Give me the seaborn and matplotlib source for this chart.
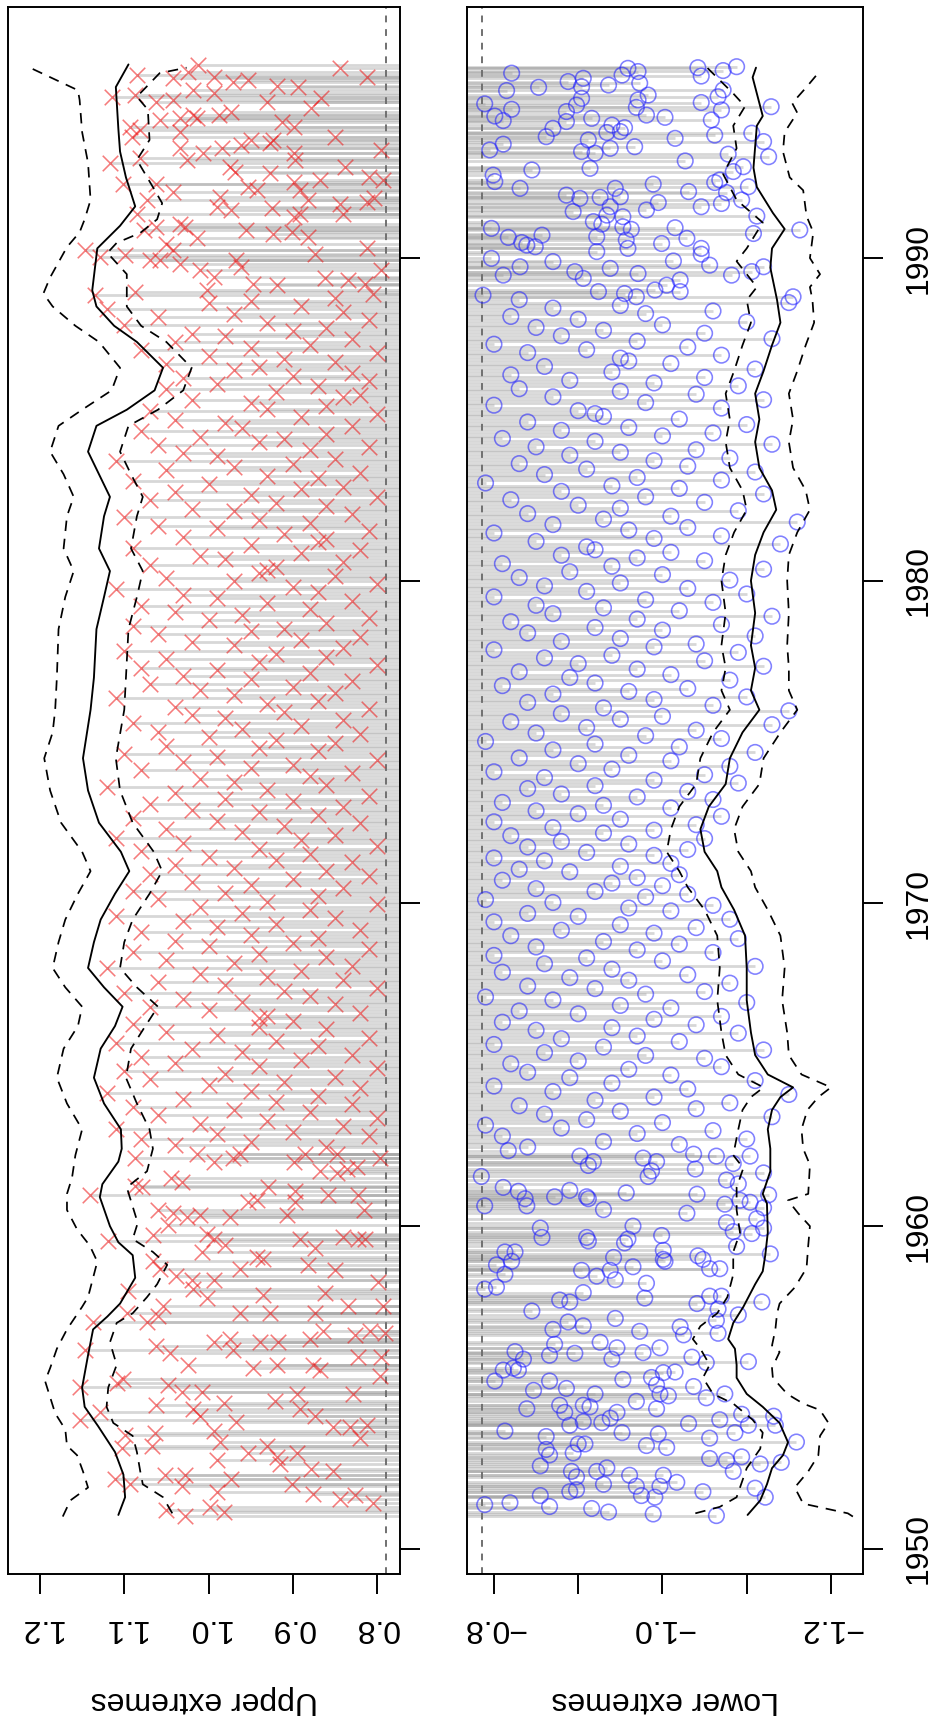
import numpy as np
import pandas as pd
import matplotlib
matplotlib.use("Agg")
import matplotlib.pyplot as plt
from matplotlib.markers import MarkerStyle
import seaborn as sns

# ---------------- data: (year, value) ----------------
upper_early = [(1962.11,1.087),(1962.23,1.014),(1962.00,0.994),(1962.11,0.971),(1962.23,0.963),(1962.00,0.899),(1962.23,0.886),(1962.23,0.848),(1962.11,0.797),(1961.71,0.868),(1961.65,0.848),(1961.77,0.836),(1961.83,0.824),(1961.48,1.044),(1961.37,1.032),(1961.25,1.087),(1961.20,1.079),(1960.97,1.141),(1961.20,0.929),(1961.08,0.897),(1960.97,0.858),(1960.97,0.822),(1960.51,0.816),(1960.51,1.060),(1960.40,1.042),(1960.28,1.026),(1960.34,1.010),(1960.28,0.975),(1960.74,0.953),(1960.80,0.943),(1960.34,0.907),(1960.74,0.897),(1959.71,1.066),(1960.05,1.048),(1959.77,1.002),(1959.60,0.994),(1959.43,0.980),(1959.54,1.119),(1959.60,0.891),(1959.31,0.874),(1959.65,0.840),(1959.60,0.822),(1959.60,0.814),(1959.03,0.943),(1958.97,0.935),(1959.20,1.008),(1958.91,1.066),(1958.68,1.058),(1958.45,1.038),(1958.34,1.020),(1958.05,1.018),(1958.34,0.994),(1958.68,0.963),(1958.80,0.882),(1958.63,0.850),(1957.77,1.002),(1957.88,0.935),(1957.94,0.862),(1957.54,0.834),(1958.28,0.799),(1957.54,0.793),(1958.00,1.095),(1957.31,1.097),(1957.54,1.054),(1957.31,0.963),(1957.31,0.927),(1957.31,0.874),(1957.03,1.137),(1957.03,1.073),(1957.20,1.060),(1956.40,0.994),(1956.51,0.975),(1956.17,0.971),(1956.40,0.939),(1956.40,0.917),(1956.51,0.880),(1956.74,0.864),(1956.63,0.826),(1956.74,0.808),(1956.68,0.791),(1956.17,1.147),(1956.28,1.062),(1956.06,1.046),(1955.71,1.024),(1955.60,0.947),(1955.71,0.919),(1955.71,0.876),(1955.54,0.868),(1955.94,0.822),(1955.94,0.795),(1955.37,0.797),(1955.03,1.153),(1955.25,1.101),(1955.14,1.109),(1955.08,1.048),(1954.85,1.032),(1954.85,1.008),(1954.51,0.982),(1954.45,1.062),(1954.57,0.921),(1954.80,0.895),(1954.34,0.891),(1954.11,0.874),(1954.80,0.828),(1953.77,0.852),(1953.77,0.832),(1953.83,0.812),(1953.43,0.820),(1954.00,1.153),(1954.23,1.129),(1954.34,1.018),(1954.11,1.010),(1953.94,0.967),(1953.60,1.064),(1953.54,1.099),(1953.65,0.994),(1953.31,0.986),(1952.97,0.953),(1953.20,0.931),(1952.85,0.919),(1952.97,0.895),(1953.14,1.103),(1953.20,1.067),(1952.74,0.990),(1952.63,0.915),(1952.46,0.878),(1952.40,0.852),(1952.28,1.052),(1952.28,1.028),(1952.17,0.973),(1952.17,1.111),(1952.00,1.093),(1952.00,0.901),(1951.71,0.876),(1951.54,0.844),(1951.66,0.826),(1951.43,0.805),(1951.94,1.032),(1951.77,0.990),(1951.03,1.028),(1951.14,0.982),(1951.31,0.998),(1951.20,1.050)]

upper_mid = [(1962.45,0.86),(1962.52,1.04),(1962.61,0.95),(1962.70,1.08),(1962.78,0.81),(1962.86,0.99),(1962.93,0.90),(1963.02,1.11),(1963.10,0.84),(1963.18,1.01),(1963.27,0.93),(1963.35,0.80),(1963.44,1.06),(1963.53,0.88),(1963.60,0.97),(1963.69,1.09),(1963.77,0.83),(1963.86,0.92),(1963.94,1.03),(1964.03,0.87),(1964.12,1.12),(1964.20,0.95),(1964.29,0.82),(1964.37,1.00),(1964.46,0.91),(1964.55,1.07),(1964.63,0.85),(1964.71,0.98),(1964.80,1.10),(1964.89,0.80),(1964.97,0.94),(1965.06,1.04),(1965.15,0.89),(1965.23,1.08),(1965.31,0.83),(1965.40,0.96),(1965.49,1.02),(1965.58,0.87),(1965.66,1.11),(1965.75,0.92),(1965.84,0.81),(1965.92,0.99),(1966.01,1.05),(1966.10,0.86),(1966.18,0.94),(1966.27,1.09),(1966.35,0.90),(1966.44,0.94),(1966.52,0.93),(1966.61,0.82),(1966.70,1.00),(1966.78,1.07),(1966.87,0.85),(1966.95,0.96),(1967.04,1.03),(1967.13,0.88),(1967.21,1.10),(1967.30,0.91),(1967.39,0.80),(1967.47,0.98),(1967.56,1.06),(1967.64,0.84),(1967.73,0.93),(1967.82,1.01),(1967.90,0.89),(1967.99,1.12),(1968.07,0.83),(1968.16,0.97),(1968.25,1.05),(1968.33,0.86),(1968.42,0.94),(1968.50,1.09),(1968.59,0.81),(1968.68,1.00),(1968.76,0.90),(1968.85,1.04),(1968.93,0.87),(1969.02,0.95),(1969.11,1.08),(1969.19,0.82),(1969.28,0.99),(1969.37,0.92),(1969.45,1.03),(1969.54,0.85),(1969.62,1.11),(1969.71,0.96),(1969.80,0.88),(1969.88,1.01),(1969.97,0.80),(1970.06,0.93),(1970.14,1.06),(1970.23,0.87),(1970.32,0.98),(1970.40,1.09),(1970.49,0.84),(1970.58,0.95),(1970.66,1.02),(1970.75,0.90),(1970.84,0.81),(1970.92,1.07),(1971.01,0.86),(1971.09,0.97),(1971.18,1.04),(1971.27,0.83),(1971.35,0.92),(1971.44,1.00),(1971.53,0.88),(1971.61,1.08),(1971.70,0.94),(1971.78,0.80),(1971.87,1.03),(1971.96,0.89),(1972.04,1.11),(1972.13,0.85),(1972.22,0.96),(1972.30,1.05),(1972.39,0.91),(1972.48,0.82),(1972.56,0.99),(1972.65,1.09),(1972.73,0.87),(1972.82,0.94),(1972.91,1.02),(1972.99,0.84),(1973.08,1.07),(1973.17,0.90),(1973.25,0.98),(1973.34,0.81),(1973.42,1.04),(1973.51,0.93),(1973.60,1.12),(1973.68,0.86),(1973.77,0.97),(1973.86,1.01),(1973.94,0.88),(1974.03,0.83),(1974.12,1.08),(1974.20,0.95),(1974.29,0.90),(1974.37,1.03),(1974.46,0.80),(1974.55,0.99),(1974.63,1.10),(1974.72,0.87),(1974.81,0.94),(1974.89,1.05),(1974.98,0.85),(1975.07,0.92),(1975.15,1.00),(1975.24,0.82),(1975.32,1.06),(1975.41,0.96),(1975.50,0.89),(1975.58,1.09),(1975.67,0.84),(1975.76,0.98),(1975.84,1.02),(1975.93,0.91),(1976.02,0.81),(1976.10,1.04),(1976.19,0.93),(1976.27,0.87),(1976.36,1.11),(1976.45,0.97),(1976.53,0.85),(1976.62,1.01),(1976.71,0.90),(1976.79,1.07),(1976.88,0.83),(1976.96,0.95),(1977.05,1.03),(1977.14,0.88),(1977.22,0.99),(1977.31,1.08),(1977.40,0.80),(1977.48,0.94),(1977.57,1.05),(1977.65,0.86),(1977.74,0.92),(1977.83,1.10),(1977.91,0.84),(1978.00,0.97),(1978.09,1.02),(1978.17,0.89),(1978.26,0.82),(1978.35,1.06),(1978.43,0.95),(1978.52,0.91),(1978.60,1.09),(1978.69,0.86),(1978.78,1.00),(1978.86,0.81),(1978.95,0.96),(1979.04,1.04),(1979.12,0.88),(1979.21,1.08),(1979.30,0.93),(1979.38,0.83),(1979.47,0.99),(1979.55,1.03),(1979.64,0.87),(1979.73,1.11),(1979.81,0.90),(1979.90,0.80),(1979.99,0.97),(1980.07,1.05),(1980.16,0.85),(1980.25,0.94),(1980.33,0.93),(1980.42,0.92),(1980.50,1.07),(1980.59,0.84),(1980.68,0.98),(1980.76,1.01),(1980.85,0.89),(1980.94,0.82),(1981.02,1.09),(1981.11,0.95),(1981.20,0.87),(1981.28,0.86),(1981.37,1.03),(1981.45,0.91),(1981.54,0.81),(1981.63,0.99),(1981.71,1.06),(1981.80,0.88),(1981.89,0.94),(1981.97,1.10),(1982.06,0.83),(1982.15,0.97),(1982.23,1.02),(1982.32,0.86),(1982.40,0.92),(1982.49,1.07),(1982.58,0.80),(1982.66,0.95),(1982.75,1.04),(1982.83,0.89),(1982.92,0.84),(1983.01,1.00),(1983.09,1.09),(1983.18,0.87),(1983.26,0.93),(1983.35,0.82),(1983.44,1.05),(1983.52,0.97),(1983.61,0.90),(1983.70,1.11),(1983.78,0.85),(1983.87,0.99),(1983.95,1.03),(1984.04,0.88),(1984.13,0.81),(1984.21,1.06),(1984.30,0.94),(1984.38,0.91),(1984.47,1.01),(1984.56,0.86),(1984.64,1.08),(1984.73,0.96),(1984.81,0.83),(1984.90,0.98),(1984.99,1.04),(1985.07,0.89),(1985.16,0.80),(1985.25,1.07),(1985.33,0.93),(1985.42,0.86),(1985.50,0.95),(1985.59,1.02),(1985.68,0.84),(1985.76,0.82),(1985.85,0.92),(1985.93,1.05),(1986.02,0.87),(1986.11,0.99),(1986.19,0.81),(1986.28,1.03),(1986.36,0.90),(1986.45,0.83),(1986.54,0.97),(1986.62,0.94),(1986.71,1.05),(1986.79,0.85),(1986.88,0.91),(1986.97,1.00),(1987.05,0.80),(1987.14,1.08),(1987.22,0.95),(1987.31,0.88),(1987.40,1.04),(1987.48,0.83),(1987.57,0.98),(1987.65,1.02),(1987.74,0.90),(1987.83,0.86),(1987.91,1.10),(1988.00,0.93),(1988.08,0.81),(1988.17,1.06),(1988.26,0.97),(1988.34,0.84),(1988.43,1.12),(1988.51,0.89),(1988.60,1.00),(1988.68,0.95)]

upper_late = [(1995.98,1.012),(1995.88,0.844),(1995.62,0.812),(1995.67,1.085),(1995.57,1.042),(1995.78,1.024),(1995.60,0.994),(1995.47,0.971),(1995.52,0.953),(1995.33,0.919),(1995.29,0.894),(1995.00,1.115),(1995.05,1.087),(1995.21,1.018),(1995.11,0.994),(1994.85,1.062),(1994.90,1.042),(1994.85,0.931),(1994.95,0.866),(1994.64,0.878),(1994.43,1.018),(1994.43,0.988),(1994.54,0.973),(1994.28,1.058),(1994.33,1.034),(1994.33,1.014),(1994.07,1.093),(1993.97,1.081),(1994.23,0.913),(1994.07,0.899),(1993.76,0.850),(1993.92,1.034),(1993.76,1.091),(1993.66,0.949),(1993.66,0.923),(1993.56,0.927),(1993.35,0.795),(1993.40,1.034),(1993.04,1.026),(1993.25,1.006),(1993.40,0.984),(1993.50,0.961),(1993.25,0.899),(1993.04,0.897),(1992.94,1.117),(1993.09,1.081),(1992.83,0.975),(1992.68,0.969),(1992.63,0.927),(1992.42,0.868),(1992.83,0.838),(1992.52,0.810),(1992.42,0.793),(1992.31,1.101),(1992.31,1.062),(1992.06,1.042),(1991.90,0.986),(1992.21,0.953),(1992.11,0.943),(1992.37,0.899),(1992.11,0.891),(1991.80,0.882),(1991.69,0.844),(1991.38,0.840),(1991.75,0.812),(1991.85,0.803),(1991.59,0.990),(1991.49,0.973),(1991.54,0.925),(1991.28,0.899),(1991.38,0.891),(1991.80,1.073),(1991.38,1.085),(1990.87,1.077),(1990.97,1.062),(1991.07,1.034),(1990.97,1.028),(1990.87,0.955),(1990.76,0.923),(1990.82,0.901),(1990.66,0.882),(1990.45,1.050),(1990.25,1.042),(1990.61,1.014),(1989.83,1.034),(1989.94,1.058),(1989.94,1.069),(1990.09,1.099),(1990.25,1.147),(1990.04,1.129),(1990.14,0.874),(1990.30,0.812),(1989.63,0.795),(1989.63,1.010),(1989.42,0.994),(1989.94,0.967),(1989.73,0.961),(1989.21,0.947),(1989.16,0.919),(1989.37,0.862),(1989.32,0.834),(1989.21,0.814),(1988.90,0.805),(1988.75,0.850),(1988.85,1.135),(1988.96,1.087),(1989.01,1.002)]

lower_early = [(1962.34,-0.817),(1962.17,-0.902),(1962.00,-0.918),(1961.88,-0.912),(1962.11,-0.977),(1962.00,-0.993),(1961.71,-0.987),(1962.23,-1.037),(1962.17,-1.064),(1962.17,-1.104),(1961.65,-1.120),(1961.94,-1.084),(1961.77,-1.039),(1961.54,-0.983),(1961.54,-0.785),(1960.63,-0.789),(1961.20,-0.811),(1961.08,-0.829),(1960.85,-0.837),(1960.63,-0.839),(1960.91,-0.872),(1961.11,-0.890),(1960.91,-0.910),(1960.85,-0.912),(1960.51,-0.930),(1961.03,-0.957),(1960.40,-1.029),(1960.99,-1.041),(1961.43,-1.076),(1961.31,-1.090),(1960.80,-1.092),(1960.68,-1.074),(1960.74,-1.104),(1960.97,-1.126),(1960.57,-1.120),(1960.23,-1.112),(1959.77,-1.106),(1960.11,-1.076),(1959.83,-1.084),(1959.94,-1.120),(1959.37,-1.088),(1959.14,-1.128),(1959.71,-0.999),(1959.25,-1.001),(1958.97,-1.001),(1958.91,-1.003),(1959.08,-1.042),(1958.97,-1.048),(1958.68,-1.056),(1958.68,-1.068),(1960.00,-0.965),(1959.60,-0.959),(1959.48,-0.955),(1959.03,-0.942),(1958.74,-0.965),(1958.63,-0.938),(1958.34,-0.944),(1958.45,-0.922),(1958.63,-0.904),(1959.94,-0.855),(1959.65,-0.857),(1959.20,-0.825),(1959.20,-0.813),(1958.80,-0.803),(1958.51,-0.813),(1958.91,-0.821),(1958.05,-0.789),(1958.11,-0.803),(1959.65,-0.910),(1959.54,-0.912),(1957.71,-0.878),(1957.65,-0.890),(1957.94,-0.906),(1957.37,-0.845),(1958.23,-0.981),(1957.77,-0.979),(1957.60,-1.041),(1957.83,-1.056),(1957.83,-1.070),(1957.43,-1.066),(1957.25,-1.090),(1957.65,-1.118),(1957.08,-1.064),(1956.68,-1.066),(1956.88,-1.021),(1956.63,-1.025),(1956.74,-0.973),(1957.14,-0.944),(1957.03,-0.888),(1956.91,-0.906),(1956.80,-0.870),(1956.00,-0.866),(1956.34,-0.872),(1956.06,-0.896),(1956.40,-0.926),(1956.23,-0.946),(1955.88,-0.940),(1956.08,-0.977),(1956.23,-0.997),(1955.94,-1.035),(1955.77,-1.052),(1955.80,-1.102),(1956.11,-0.825),(1955.88,-0.835),(1955.54,-0.811),(1955.60,-0.823),(1955.54,-0.829),(1955.20,-0.801),(1955.20,-0.866),(1954.91,-0.847),(1954.97,-0.886),(1955.25,-0.953),(1955.31,-0.987),(1955.46,-1.001),(1955.48,-1.015),(1955.08,-0.993),(1954.80,-0.997),(1954.74,-1.007),(1955.03,-1.037),(1954.68,-1.052),(1954.80,-1.074),(1954.34,-0.839),(1954.45,-0.878),(1954.23,-0.884),(1954.45,-0.906),(1954.40,-0.914),(1954.80,-0.920),(1954.57,-0.969),(1954.34,-0.993),(1953.83,-0.890),(1953.94,-0.906),(1953.91,-0.928),(1954.05,-0.938),(1954.23,-0.946),(1953.60,-0.952),(1953.65,-0.813),(1953.48,-0.862),(1953.08,-0.862),(1952.91,-0.866),(1952.97,-0.894),(1953.25,-0.900),(1953.25,-0.908),(1953.20,-0.981),(1953.56,-0.995),(1953.14,-1.005),(1953.88,-1.031),(1953.43,-1.056),(1954.00,-1.068),(1953.60,-1.086),(1953.83,-1.102),(1954.17,-1.094),(1954.11,-1.132),(1953.83,-1.134),(1953.31,-1.159),(1952.63,-1.116),(1952.68,-1.141),(1952.85,-1.094),(1952.74,-1.076),(1952.80,-1.056),(1952.40,-1.084),(1952.57,-0.855),(1952.40,-0.892),(1952.23,-0.898),(1952.40,-0.922),(1952.00,-0.930),(1952.51,-0.934),(1951.77,-0.890),(1951.83,-0.898),(1952.28,-0.961),(1951.94,-0.969),(1951.65,-0.975),(1951.60,-0.991),(1951.94,-0.997),(1952.28,-1.001),(1952.06,-1.017),(1951.77,-1.048),(1951.65,-0.855),(1951.37,-0.789),(1951.43,-0.819),(1951.31,-0.866),(1951.25,-0.916),(1951.14,-0.936),(1951.08,-0.989),(1951.03,-1.064),(1951.88,-1.110),(1951.60,-1.122)]

lower_mid = [(1962.45,-0.84),(1962.53,-1.02),(1962.62,-0.93),(1962.70,-1.10),(1962.79,-0.81),(1962.87,-0.97),(1962.96,-1.06),(1963.04,-0.88),(1963.13,-0.79),(1963.21,-1.00),(1963.30,-0.91),(1963.39,-1.13),(1963.47,-0.86),(1963.56,-0.95),(1963.64,-1.04),(1963.73,-0.83),(1963.82,-1.08),(1963.90,-0.92),(1964.00,-0.99),(1964.08,-1.15),(1964.17,-0.87),(1964.25,-1.03),(1964.34,-0.80),(1964.43,-0.94),(1964.51,-1.11),(1964.60,-0.89),(1964.68,-1.01),(1964.77,-0.84),(1964.86,-0.96),(1964.94,-1.07),(1965.03,-0.82),(1965.12,-0.90),(1965.20,-1.05),(1965.29,-0.98),(1965.38,-0.86),(1965.46,-1.12),(1965.55,-0.93),(1965.63,-0.80),(1965.72,-1.02),(1965.81,-0.88),(1965.89,-0.97),(1965.98,-1.09),(1966.07,-0.85),(1966.15,-0.94),(1966.24,-1.04),(1966.32,-0.81),(1966.41,-0.99),(1966.50,-1.07),(1966.58,-0.90),(1966.67,-0.83),(1966.76,-1.01),(1966.84,-0.95),(1966.93,-1.10),(1967.01,-0.87),(1967.10,-0.79),(1967.19,-0.98),(1967.27,-1.05),(1967.36,-0.92),(1967.44,-0.84),(1967.53,-1.08),(1967.62,-0.96),(1967.70,-0.89),(1967.79,-1.03),(1967.87,-0.81),(1967.96,-0.94),(1968.05,-1.11),(1968.13,-0.86),(1968.22,-1.00),(1968.31,-0.91),(1968.39,-0.80),(1968.48,-1.06),(1968.56,-0.97),(1968.65,-0.85),(1968.74,-1.02),(1968.82,-0.93),(1968.91,-1.09),(1969.00,-0.82),(1969.08,-0.99),(1969.17,-0.88),(1969.25,-1.04),(1969.34,-0.95),(1969.43,-0.80),(1969.51,-1.08),(1969.60,-0.90),(1969.69,-0.84),(1969.77,-1.01),(1969.86,-0.96),(1969.94,-1.06),(1970.03,-0.87),(1970.12,-0.79),(1970.20,-0.98),(1970.29,-1.03),(1970.37,-0.92),(1970.46,-0.85),(1970.55,-1.00),(1970.63,-0.94),(1970.72,-0.81),(1970.80,-0.97),(1970.89,-1.02),(1970.98,-0.89),(1971.06,-0.83),(1971.15,-0.95),(1971.24,-1.01),(1971.32,-0.86),(1971.41,-0.80),(1971.49,-0.99),(1971.58,-0.91),(1971.67,-1.03),(1971.75,-0.84),(1971.84,-0.96),(1971.92,-0.88),(1972.01,-1.05),(1972.10,-0.82),(1972.18,-0.93),(1972.27,-0.99),(1972.35,-0.87),(1972.44,-1.04),(1972.53,-0.80),(1972.61,-0.95),(1972.70,-1.07),(1972.78,-0.90),(1972.87,-0.85),(1972.96,-1.01),(1973.04,-0.93),(1973.13,-0.81),(1973.22,-1.06),(1973.30,-0.97),(1973.39,-0.88),(1973.47,-1.03),(1973.56,-0.84),(1973.65,-0.92),(1973.73,-1.09),(1973.82,-0.99),(1973.90,-0.86),(1973.99,-1.05),(1974.08,-0.80),(1974.16,-0.94),(1974.25,-1.08),(1974.33,-0.90),(1974.42,-1.01),(1974.51,-0.83),(1974.59,-0.96),(1974.68,-1.11),(1974.76,-0.87),(1974.85,-1.02),(1974.94,-0.92),(1975.02,-0.79),(1975.11,-1.07),(1975.20,-0.98),(1975.28,-0.85),(1975.37,-1.04),(1975.45,-0.91),(1975.54,-1.13),(1975.63,-0.82),(1975.71,-0.95),(1975.80,-1.00),(1975.88,-0.88),(1975.97,-1.15),(1976.06,-0.93),(1976.14,-1.06),(1976.23,-0.84),(1976.32,-0.99),(1976.40,-1.10),(1976.49,-0.87),(1976.57,-0.96),(1976.66,-1.03),(1976.75,-0.81),(1976.83,-0.92),(1976.92,-1.08),(1977.00,-0.89),(1977.09,-1.01),(1977.18,-0.83),(1977.26,-0.97),(1977.35,-1.12),(1977.43,-0.90),(1977.52,-1.05),(1977.61,-0.86),(1977.69,-0.94),(1977.78,-1.09),(1977.86,-0.80),(1977.95,-0.99),(1978.04,-1.04),(1978.12,-0.88),(1978.21,-0.95),(1978.29,-1.11),(1978.38,-0.84),(1978.47,-1.00),(1978.55,-0.92),(1978.64,-1.07),(1978.73,-0.82),(1978.81,-0.97),(1978.90,-1.13),(1978.98,-0.87),(1979.07,-1.02),(1979.16,-0.93),(1979.24,-0.85),(1979.33,-1.06),(1979.41,-0.98),(1979.50,-0.80),(1979.59,-1.10),(1979.67,-0.91),(1979.76,-1.03),(1979.84,-0.86),(1979.93,-0.95),(1980.02,-1.08),(1980.10,-0.83),(1980.19,-1.00),(1980.28,-0.89),(1980.36,-1.12),(1980.45,-0.94),(1980.53,-0.81),(1980.62,-1.05),(1980.71,-0.97),(1980.79,-0.88),(1980.88,-1.01),(1980.96,-0.92),(1981.05,-0.91),(1981.14,-1.14),(1981.22,-0.85),(1981.31,-0.99),(1981.39,-1.07),(1981.48,-0.80),(1981.57,-0.96),(1981.65,-1.03),(1981.74,-0.87),(1981.82,-1.16),(1981.91,-0.93),(1982.00,-1.01),(1982.08,-0.84),(1982.17,-1.09),(1982.25,-0.95),(1982.34,-0.90),(1982.43,-1.05),(1982.51,-0.82),(1982.60,-0.98),(1982.69,-1.12),(1982.77,-0.88),(1982.86,-1.02),(1982.94,-0.94),(1983.03,-0.79),(1983.12,-1.07),(1983.20,-0.97),(1983.29,-0.86),(1983.37,-1.11),(1983.46,-0.91),(1983.55,-1.03),(1983.63,-0.83),(1983.72,-0.99),(1983.80,-1.08),(1983.89,-0.89),(1983.98,-0.95),(1984.06,-1.04),(1984.15,-0.85),(1984.23,-1.13),(1984.32,-0.92),(1984.41,-0.81),(1984.49,-1.00),(1984.58,-1.06),(1984.66,-0.88),(1984.75,-0.96),(1984.84,-1.10),(1984.92,-0.84),(1985.01,-1.02),(1985.09,-0.93),(1985.18,-0.92),(1985.27,-0.90),(1985.35,-1.07),(1985.44,-0.80),(1985.52,-0.98),(1985.61,-1.12),(1985.70,-0.87),(1985.78,-1.04),(1985.87,-0.95),(1985.95,-0.83),(1986.04,-1.09),(1986.13,-0.99),(1986.21,-0.89),(1986.30,-1.05),(1986.38,-0.82),(1986.47,-0.94),(1986.56,-1.11),(1986.64,-0.86),(1986.73,-1.01),(1986.81,-0.96),(1986.90,-0.95),(1986.99,-1.07),(1987.07,-0.84),(1987.16,-0.91),(1987.24,-1.03),(1987.33,-0.80),(1987.42,-0.97),(1987.50,-1.13),(1987.59,-0.88),(1987.67,-1.05),(1987.76,-0.93),(1987.85,-0.85),(1987.93,-1.00),(1988.02,-1.10),(1988.10,-0.90),(1988.19,-0.82),(1988.28,-0.98),(1988.36,-1.06),(1988.45,-0.87),(1988.53,-0.95),(1988.62,-1.15),(1988.71,-0.83)]

lower_late = [(1995.73,-0.821),(1995.29,-0.853),(1995.19,-0.815),(1994.78,-0.789),(1994.40,-0.801),(1994.26,-0.811),(1994.61,-0.821),(1995.47,-0.888),(1995.57,-0.906),(1995.31,-0.904),(1994.95,-0.904),(1995.36,-0.936),(1995.67,-0.952),(1995.88,-0.959),(1995.78,-0.971),(1995.42,-0.973),(1995.05,-0.983),(1994.90,-0.971),(1994.67,-0.969),(1994.43,-0.981),(1994.36,-1.003),(1995.90,-1.042),(1995.64,-1.046),(1995.81,-1.072),(1995.93,-1.088),(1994.54,-0.886),(1994.23,-0.886),(1994.74,-0.898),(1994.02,-0.870),(1993.76,-0.862),(1994.33,-0.916),(1994.12,-0.940),(1993.89,-0.934),(1993.92,-0.950),(1994.04,-0.955),(1993.40,-0.938),(1993.66,-0.912),(1993.30,-0.904),(1993.25,-0.920),(1992.78,-0.914),(1993.45,-0.967),(1993.71,-1.015),(1993.01,-1.027),(1994.82,-1.046),(1995.21,-1.072),(1995.00,-1.066),(1994.59,-1.070),(1994.28,-1.058),(1993.81,-1.062),(1994.69,-1.129),(1993.87,-1.106),(1993.61,-1.120),(1993.14,-1.126),(1993.22,-1.078),(1992.83,-1.096),(1992.68,-1.084),(1992.34,-1.062),(1992.42,-1.068),(1992.21,-1.102),(1992.03,-1.076),(1991.80,-1.094),(1991.69,-1.070),(1991.59,-1.046),(1992.06,-1.031),(1992.29,-0.989),(1991.72,-0.995),(1991.49,-0.981),(1993.35,-0.795),(1993.53,-0.811),(1992.57,-0.799),(1992.37,-0.801),(1992.73,-0.845),(1992.16,-0.831),(1991.95,-0.886),(1991.85,-0.902),(1991.44,-0.894),(1991.88,-0.926),(1992.16,-0.944),(1991.90,-0.950),(1991.59,-0.938),(1991.33,-0.934),(1991.13,-0.918),(1991.05,-0.928),(1991.28,-0.953),(1990.97,-0.953),(1990.89,-0.963),(1990.56,-0.957),(1990.30,-0.959),(1990.66,-0.922),(1990.20,-0.922),(1990.92,-0.797),(1990.64,-0.817),(1990.48,-0.833),(1990.40,-0.839),(1990.35,-0.849),(1990.71,-0.857),(1989.89,-0.870),(1989.99,-0.797),(1989.73,-0.831),(1989.47,-0.811),(1989.58,-0.896),(1989.37,-0.906),(1989.68,-0.938),(1989.52,-0.971),(1990.45,-0.999),(1989.91,-1.013),(1990.94,-1.015),(1990.61,-1.029),(1990.30,-1.046),(1990.12,-1.046),(1989.78,-1.056),(1989.47,-1.082),(1989.58,-1.106),(1989.73,-1.120),(1991.30,-1.112),(1990.76,-1.108),(1990.87,-1.163),(1988.96,-0.924),(1988.90,-0.955),(1988.80,-0.969),(1989.01,-0.991),(1989.16,-1.005),(1989.32,-1.021),(1988.96,-1.021),(1988.85,-0.787),(1988.80,-1.155)]

# smoothed curves (year, value)
upper_center = [(1951.05,1.107),(1951.6,1.099),(1952.3,1.101),(1953.0,1.111),(1953.8,1.131),(1954.4,1.147),(1955.0,1.150),(1956.0,1.143),(1956.8,1.137),(1957.2,1.120),(1957.6,1.105),(1958.4,1.087),(1959.1,1.090),(1959.5,1.107),(1960.0,1.117),(1960.9,1.129),(1961.3,1.126),(1962.0,1.107),(1962.4,1.103),(1963.0,1.104),(1963.8,1.124),(1964.6,1.136),(1965.5,1.128),(1966.2,1.111),(1966.8,1.102),(1967.4,1.124),(1968.0,1.143),(1968.8,1.136),(1969.5,1.128),(1970.3,1.111),(1971.0,1.094),(1971.6,1.104),(1972.5,1.130),(1973.5,1.143),(1974.5,1.149),(1976.0,1.140),(1977.0,1.136),(1978.5,1.133),(1979.5,1.124),(1980.3,1.117),(1981.0,1.130),(1982.0,1.124),(1982.6,1.117),(1983.3,1.130),(1984.0,1.143),(1984.8,1.133),(1985.3,1.097),(1985.9,1.064),(1986.6,1.054),(1987.4,1.085),(1987.9,1.112),(1988.5,1.133),(1989.0,1.138),(1990.3,1.132),(1991.0,1.105),(1991.6,1.087),(1992.5,1.098),(1993.3,1.105),(1994.0,1.107),(1995.3,1.110),(1996.0,1.095)]
upper_band_hi = [(1951.0,1.173),(1951.5,1.164),(1951.9,1.143),(1952.4,1.149),(1952.9,1.156),(1953.2,1.168),(1953.7,1.170),(1954.2,1.182),(1954.7,1.188),(1955.2,1.194),(1955.6,1.188),(1956.2,1.180),(1956.8,1.168),(1957.5,1.150),(1957.8,1.143),(1958.9,1.132),(1959.4,1.141),(1959.9,1.156),(1960.5,1.168),(1961.0,1.168),(1961.5,1.162),(1962.2,1.158),(1963.0,1.150),(1963.8,1.168),(1964.6,1.180),(1965.5,1.172),(1966.2,1.155),(1966.8,1.150),(1967.4,1.170),(1968.0,1.185),(1968.8,1.178),(1969.5,1.170),(1970.3,1.155),(1971.0,1.140),(1971.6,1.150),(1972.5,1.175),(1973.5,1.188),(1974.5,1.195),(1975.3,1.185),(1976.0,1.182),(1977.0,1.180),(1978.5,1.178),(1979.5,1.170),(1980.3,1.160),(1981.0,1.172),(1982.0,1.168),(1982.6,1.160),(1983.3,1.172),(1984.0,1.188),(1984.8,1.178),(1985.3,1.150),(1985.9,1.115),(1986.6,1.105),(1987.4,1.130),(1987.9,1.158),(1988.5,1.185),(1988.9,1.196),(1989.4,1.188),(1990.34,1.168),(1990.8,1.153),(1991.2,1.147),(1991.8,1.140),(1992.95,1.143),(1993.9,1.150),(1994.9,1.153),(1995.2,1.155),(1995.9,1.212)]
upper_band_lo = [(1951.1,1.043),(1951.6,1.054),(1952.0,1.078),(1952.4,1.081),(1953.0,1.085),(1953.5,1.090),(1953.9,1.113),(1954.4,1.121),(1955.0,1.119),(1955.7,1.109),(1956.4,1.117),(1957.0,1.109),(1957.3,1.090),(1957.8,1.073),(1958.2,1.061),(1958.8,1.049),(1959.2,1.066),(1959.6,1.090),(1960.1,1.084),(1961.2,1.097),(1961.7,1.073),(1962.4,1.066),(1963.0,1.070),(1963.8,1.085),(1964.6,1.098),(1965.5,1.092),(1966.2,1.075),(1966.8,1.060),(1967.4,1.085),(1968.0,1.105),(1968.8,1.100),(1969.5,1.090),(1970.3,1.070),(1971.0,1.055),(1971.6,1.065),(1972.5,1.090),(1973.5,1.105),(1974.5,1.110),(1976.0,1.100),(1977.0,1.098),(1978.5,1.095),(1979.5,1.085),(1980.3,1.078),(1981.0,1.092),(1982.0,1.085),(1982.6,1.078),(1983.3,1.092),(1984.0,1.105),(1984.8,1.095),(1985.3,1.060),(1985.9,1.030),(1986.6,1.020),(1987.4,1.050),(1987.9,1.080),(1988.5,1.097),(1989.1,1.097),(1989.5,1.097),(1990.16,1.120),(1990.47,1.109),(1990.78,1.081),(1991.2,1.061),(1991.7,1.055),(1992.2,1.066),(1993.04,1.085),(1993.66,1.070),(1994.6,1.072),(1995.0,1.085),(1995.73,1.058),(1995.9,1.026)]

lower_center = [(1951.05,-1.101),(1951.5,-1.116),(1952.0,-1.124),(1952.5,-1.130),(1952.9,-1.143),(1953.3,-1.149),(1953.9,-1.139),(1954.4,-1.119),(1954.8,-1.100),(1955.3,-1.088),(1955.7,-1.088),(1956.2,-1.086),(1956.5,-1.078),(1957.0,-1.084),(1957.5,-1.096),(1958.2,-1.110),(1958.6,-1.119),(1959.1,-1.122),(1959.8,-1.125),(1960.7,-1.124),(1961.0,-1.119),(1961.7,-1.128),(1962.4,-1.128),(1963.0,-1.125),(1963.6,-1.130),(1964.0,-1.140),(1964.3,-1.155),(1964.7,-1.125),(1965.3,-1.110),(1966.0,-1.105),(1967.0,-1.100),(1968.0,-1.100),(1969.0,-1.098),(1969.8,-1.085),(1970.5,-1.070),(1971.0,-1.065),(1971.6,-1.050),(1972.3,-1.045),(1973.0,-1.055),(1973.7,-1.075),(1974.5,-1.080),(1975.3,-1.095),(1976.0,-1.115),(1976.6,-1.105),(1977.3,-1.110),(1978.0,-1.105),(1979.0,-1.110),(1980.0,-1.105),(1980.8,-1.110),(1981.5,-1.120),(1982.2,-1.135),(1982.8,-1.130),(1983.5,-1.115),(1984.3,-1.110),(1985.0,-1.115),(1985.8,-1.110),(1986.5,-1.120),(1987.3,-1.130),(1988.0,-1.140),(1988.7,-1.136),(1989.7,-1.128),(1990.3,-1.130),(1990.9,-1.145),(1991.4,-1.131),(1992.2,-1.112),(1992.8,-1.108),(1994.1,-1.112),(1994.4,-1.119),(1995.6,-1.107),(1995.9,-1.111)]
lower_band_in = [(1951.1,-1.039),(1951.3,-1.068),(1951.6,-1.088),(1952.5,-1.100),(1953.1,-1.116),(1953.6,-1.119),(1954.0,-1.107),(1954.5,-1.084),(1954.8,-1.060),(1955.3,-1.048),(1955.7,-1.056),(1956.2,-1.045),(1956.5,-1.036),(1956.9,-1.045),(1957.3,-1.065),(1957.8,-1.077),(1958.5,-1.084),(1959.2,-1.084),(1959.8,-1.092),(1960.5,-1.088),(1961.2,-1.088),(1961.8,-1.096),(1962.2,-1.084),(1963.0,-1.090),(1963.6,-1.095),(1964.0,-1.105),(1964.3,-1.120),(1964.7,-1.090),(1965.3,-1.075),(1966.0,-1.070),(1967.0,-1.065),(1968.0,-1.068),(1969.0,-1.065),(1969.8,-1.050),(1970.5,-1.030),(1971.0,-1.020),(1971.6,-1.005),(1972.3,-1.010),(1973.0,-1.020),(1973.7,-1.040),(1974.5,-1.045),(1975.3,-1.060),(1976.0,-1.080),(1976.6,-1.070),(1977.3,-1.075),(1978.0,-1.070),(1979.0,-1.075),(1980.0,-1.070),(1980.8,-1.075),(1981.5,-1.085),(1982.2,-1.100),(1982.8,-1.095),(1983.5,-1.080),(1984.3,-1.075),(1985.0,-1.080),(1985.8,-1.075),(1986.5,-1.085),(1987.3,-1.095),(1988.0,-1.105),(1988.7,-1.100),(1989.1,-1.112),(1989.9,-1.088),(1990.3,-1.100),(1991.1,-1.119),(1991.8,-1.088),(1992.6,-1.072),(1993.4,-1.088),(1994.1,-1.084),(1994.7,-1.098),(1995.1,-1.084),(1995.9,-1.053)]
lower_band_out = [(1951.0,-1.226),(1951.1,-1.220),(1951.4,-1.167),(1951.9,-1.157),(1952.4,-1.173),(1952.9,-1.185),(1953.5,-1.187),(1953.9,-1.197),(1954.3,-1.187),(1954.5,-1.167),(1954.8,-1.148),(1955.3,-1.131),(1955.6,-1.130),(1956.1,-1.139),(1956.3,-1.130),(1956.8,-1.134),(1957.3,-1.136),(1957.6,-1.139),(1958.1,-1.157),(1958.7,-1.171),(1959.4,-1.173),(1960.0,-1.175),(1960.4,-1.161),(1960.8,-1.149),(1961.0,-1.173),(1961.9,-1.175),(1962.4,-1.167),(1963.0,-1.165),(1963.6,-1.172),(1964.0,-1.185),(1964.3,-1.200),(1964.7,-1.165),(1965.3,-1.150),(1966.0,-1.148),(1967.0,-1.142),(1968.0,-1.145),(1969.0,-1.140),(1969.8,-1.125),(1970.5,-1.110),(1971.0,-1.105),(1971.6,-1.090),(1972.3,-1.085),(1973.0,-1.095),(1973.7,-1.115),(1974.5,-1.120),(1975.3,-1.140),(1976.0,-1.160),(1976.6,-1.150),(1977.3,-1.150),(1978.0,-1.148),(1979.0,-1.150),(1980.0,-1.148),(1980.8,-1.150),(1981.5,-1.160),(1982.2,-1.175),(1982.8,-1.170),(1983.5,-1.155),(1984.3,-1.150),(1985.0,-1.155),(1985.8,-1.150),(1986.5,-1.160),(1987.3,-1.170),(1988.0,-1.180),(1988.7,-1.178),(1989.1,-1.175),(1989.5,-1.187),(1990.0,-1.175),(1990.8,-1.179),(1991.3,-1.171),(1992.1,-1.167),(1992.5,-1.151),(1993.3,-1.143),(1993.9,-1.145),(1994.5,-1.160),(1994.8,-1.154),(1995.3,-1.171),(1995.8,-1.187)]

year_ticks = [1950, 1960, 1970, 1980, 1990]
year_labels = ["1950", "1960", "1970", "1980", "1990"]
upper_ticks = [0.8, 0.9, 1.0, 1.1, 1.2]
upper_labels = ["0.8", "0.9", "1.0", "1.1", "1.2"]
lower_ticks = [-1.2, -1.1, -1.0, -0.9, -0.8]
lower_labels = ["\u22121.2", "", "\u22121.0", "", "\u22120.8"]
upper_threshold = 0.789
lower_threshold = -0.786
panel_titles = ["Upper extremes", "Lower extremes"]

# ---------------- style ----------------
sns.set_theme(style="ticks")
plt.rcParams["font.family"] = ["Liberation Sans", "DejaVu Sans"]
plt.rcParams["axes.edgecolor"] = "black"
plt.rcParams["xtick.color"] = "black"
plt.rcParams["ytick.color"] = "black"
plt.rcParams["text.color"] = "black"
plt.rcParams["axes.labelcolor"] = "black"

W, H = 940, 1728
fig = plt.figure(figsize=(W / 100, H / 100), dpi=100)
ax1 = fig.add_axes([8 / W, 1 - 1574 / H, 392 / W, 1567 / H])
ax2 = fig.add_axes([467 / W, 1 - 1574 / H, 396 / W, 1567 / H])

FS = 23


def to_df(*parts):
    rows = [p for part in parts for p in part]
    return pd.DataFrame(rows, columns=["year", "value"])


def draw_panel(ax, df, center, band_a, band_b, thr, xlim, ticks, labels,
               marker, color, title, show_years):
    ax.hlines(df["year"], 0, df["value"], colors="#a0a0a0", alpha=0.42,
              linewidth=2.0, zorder=1)
    ax.axvline(thr, color="#707070", linestyle=(0, (3.5, 3.5)), linewidth=1.4, zorder=2)
    sns.scatterplot(data=df, x="value", y="year", marker=marker, s=125,
                    color=color, alpha=0.55, linewidth=1.15, ax=ax,
                    legend=False, zorder=3)
    for band in (band_a, band_b):
        bd = pd.DataFrame(band, columns=["year", "value"])
        sns.lineplot(data=bd, x="value", y="year", orient="y", sort=True,
                     estimator=None, color="black", linewidth=1.25,
                     linestyle=(0, (6, 4.5)), ax=ax, zorder=4)
    cd = pd.DataFrame(center, columns=["year", "value"])
    sns.lineplot(data=cd, x="value", y="year", orient="y", sort=True,
                 estimator=None, color="black", linewidth=1.35, ax=ax, zorder=5)

    ax.set_xlim(*xlim)
    ax.set_ylim(1949.22, 1997.78)
    ax.set_xticks(ticks)
    ax.set_xticklabels(labels)
    ax.set_yticks(year_ticks)
    ax.yaxis.tick_right()
    if show_years:
        ax.set_yticklabels(year_labels)
    else:
        ax.set_yticklabels([])
    ax.tick_params(axis="x", direction="out", length=14.4, width=1.4,
                   pad=14, labelsize=FS, labelrotation=180)
    ax.tick_params(axis="y", direction="out", length=14.4, width=1.4,
                   pad=15, labelsize=FS, labelrotation=90, left=False, right=True)
    for lab in ax.get_yticklabels():
        lab.set_va("center")
    ax.set_xlabel(title, fontsize=FS, rotation=180, labelpad=30)
    ax.set_ylabel("")
    for sp in ax.spines.values():
        sp.set_visible(True)
        sp.set_linewidth(1.4)
        sp.set_color("black")


upper_df = to_df(upper_early, upper_mid, upper_late)
lower_df = to_df(lower_early, lower_mid, lower_late)

draw_panel(ax1, upper_df, upper_center, upper_band_hi, upper_band_lo,
           upper_threshold, (1.238, 0.7727), upper_ticks, upper_labels,
           "x", "#ee1111", panel_titles[0], False)
draw_panel(ax2, lower_df, lower_center, lower_band_in, lower_band_out,
           lower_threshold, (-0.768, -1.238), lower_ticks, lower_labels,
           MarkerStyle("o", fillstyle="none"), "#1a1aff", panel_titles[1], True)

fig.savefig("out.png", dpi=100)
